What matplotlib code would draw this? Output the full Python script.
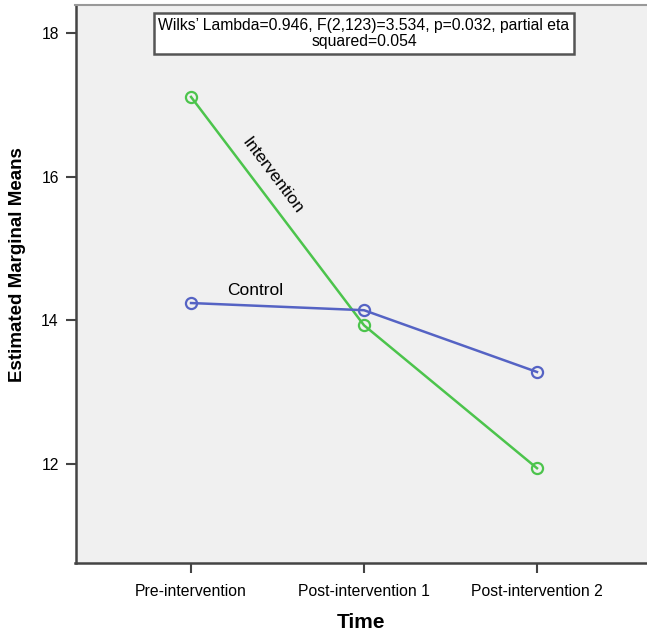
import numpy as np
import matplotlib
matplotlib.use("Agg")
from matplotlib import pyplot as plt

plt.rcParams['font.family'] = ['Liberation Sans', 'DejaVu Sans']

# data
timepoints = ['Pre-intervention', 'Post-intervention 1', 'Post-intervention 2']
intervention = [17.11, 13.93, 11.94]
control = [14.24, 14.14, 13.28]
yticks = [12, 14, 16, 18]
stats_text = "Wilks’ Lambda=0.946, F(2,123)=3.534, p=0.032, partial eta\nsquared=0.054"

green = '#4cc44c'
blue = '#5563c4'

fig = plt.figure(figsize=(6.47, 6.35), dpi=100)
W, H = 647, 635
ax = fig.add_axes([75.5 / W, (H - 563) / H, (W - 75.5) / W, (563 - 5) / H])
ax.set_facecolor('#f0f0f0')

x = np.arange(len(timepoints))
ax.plot(x, intervention, color=green, lw=1.8, marker='o', ms=8, mfc='none', mec=green, mew=1.6)
ax.plot(x, control, color=blue, lw=1.8, marker='o', ms=8, mfc='none', mec=blue, mew=1.6)

ax.set_xlim(-0.668, 2.636)
ax.set_ylim(10.62, 18.39)
ax.set_xticks(x)
ax.set_xticklabels(timepoints, fontsize=11.3)
ax.set_yticks(yticks)
ax.set_yticklabels([str(v) for v in yticks], fontsize=11.3)
ax.tick_params(axis='both', length=7, width=1.5, color='#444444', pad=5)
ax.tick_params(axis='x', pad=8)

for s in ['left', 'bottom']:
    ax.spines[s].set_linewidth(1.8)
    ax.spines[s].set_color('#444444')
ax.spines['top'].set_color('#999999')
ax.spines['top'].set_linewidth(1.5)
ax.spines['right'].set_visible(False)

ax.set_xlabel('Time', fontsize=15, fontweight='bold', labelpad=10)
ax.set_ylabel('Estimated Marginal Means', fontsize=13.5, fontweight='bold')
ax.yaxis.set_label_coords(-0.086, 0.534)

# series labels
ax.text(0.468, 16.01, 'Intervention', fontsize=12.5, rotation=-53,
        ha='center', va='center', rotation_mode='anchor')
ax.text(0.37, 14.41, 'Control', fontsize=12.5, ha='center', va='center')

ax.text(1.0, 17.99, stats_text, fontsize=11.3, ha='center', va='center',
        linespacing=1.1,
        bbox=dict(boxstyle='square,pad=0.3', fc='white', ec='#555555', lw=1.8))

fig.savefig('out.png', dpi=100)
